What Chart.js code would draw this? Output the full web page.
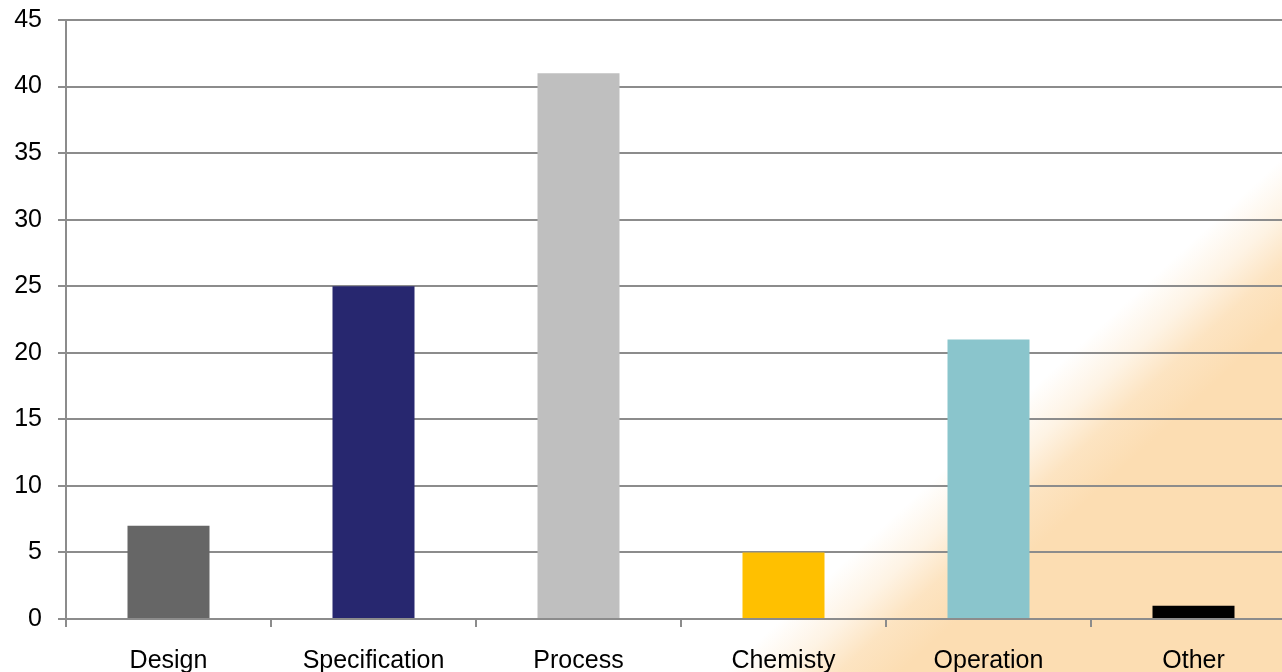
<!DOCTYPE html>
<html>
<head>
    <title>Causes</title>
    <script src="https://cdn.jsdelivr.net/npm/chart.js"></script>
    <style>
        body { margin: 0; overflow: hidden; background: #fff; }
        #wrap { width: 1300px; height: 672px; position: relative; }
    </style>
</head>
<body>
    <div id="wrap"><canvas id="causeChart"></canvas></div>
    <script>
        const categories = ['Design', 'Specification', 'Process', 'Chemisty', 'Operation', 'Other'];
        const counts = [7, 25, 41, 5, 21, 1];
        const barColors = ['#666666', '#27276F', '#BFBFBF', '#FFC000', '#8AC5CC', '#000000'];
        const yTicks = [0, 5, 10, 15, 20, 25, 30, 35, 40, 45];

        const gridGrey = '#8c8c8c';

        //peach wash in the lower right corner
        const backdrop = {
            id: 'backdrop',
            beforeDraw(chart) {
                const ctx = chart.ctx;
                const g = ctx.createLinearGradient(671, 721, 752, 809);
                g.addColorStop(0, 'rgba(252,221,178,0)');
                g.addColorStop(0.35, 'rgba(252,221,178,0.35)');
                g.addColorStop(0.65, 'rgba(252,221,178,0.8)');
                g.addColorStop(1, 'rgba(252,221,178,1)');
                ctx.save();
                ctx.fillStyle = '#ffffff';
                ctx.fillRect(0, 0, chart.width, chart.height);
                ctx.fillStyle = g;
                ctx.fillRect(0, 0, chart.width, chart.height);
                ctx.restore();
            }
        };

        new Chart(document.getElementById('causeChart'), {
            type: 'bar',
            data: {
                labels: categories,
                datasets: [{
                    data: counts,
                    backgroundColor: barColors,
                    categoryPercentage: 1,
                    barPercentage: 0.4
                }]
            },
            options: {
                responsive: true,
                maintainAspectRatio: false,
                animation: false,
                layout: { padding: { top: 20, right: 4, left: 0, bottom: 0 } },
                plugins: { legend: { display: false }, tooltip: { enabled: false } },
                scales: {
                    x: {
                        grid: { offset: true, drawOnChartArea: false, drawTicks: true, tickLength: 8, color: gridGrey, lineWidth: 2 },
                        border: { color: gridGrey, width: 2 },
                        ticks: { color: '#000', font: { family: 'Liberation Sans, Arial', size: 25 }, padding: 19, maxRotation: 0 },
                        afterFit(scale) { scale.height = 53; scale.paddingLeft = 0; scale.paddingRight = 0; }
                    },
                    y: {
                        min: 0,
                        max: 45,
                        afterBuildTicks(scale) { scale.ticks = yTicks.map(v => ({ value: v })); },
                        grid: { color: gridGrey, lineWidth: 2, tickLength: 8 },
                        border: { color: gridGrey, width: 2 },
                        ticks: { color: '#000', font: { family: 'Liberation Sans, Arial', size: 25 }, padding: 16 },
                        afterFit(scale) { scale.width = 66; scale.paddingTop = 0; scale.paddingBottom = 0; }
                    }
                }
            },
            plugins: [backdrop]
        });
    </script>
</body>
</html>
